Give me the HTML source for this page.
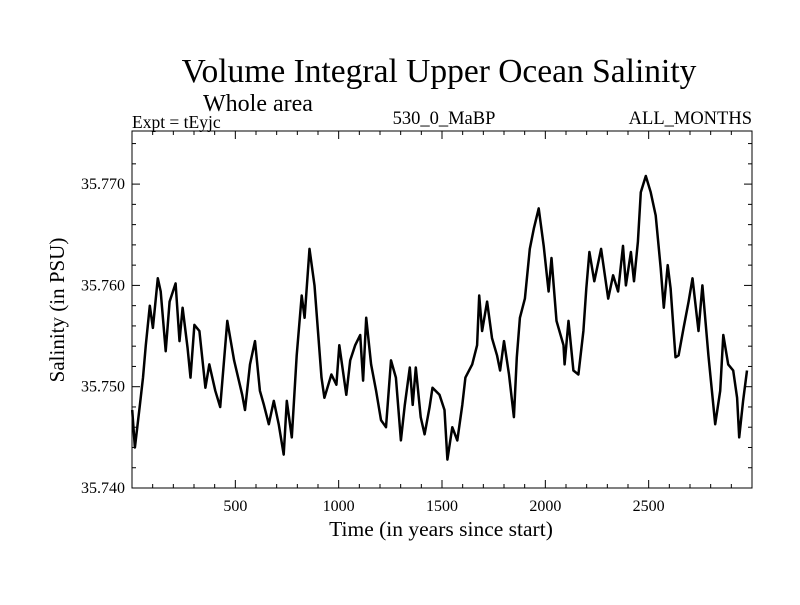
<!DOCTYPE html>
<html><head><meta charset="utf-8"><style>
body{margin:0;background:#fff;}
svg text{font-family:"Liberation Serif",serif;fill:#000;}
</style></head><body>
<svg id="chart" width="800" height="600" viewBox="0 0 800 600">
<text x="439" y="82" font-size="33.5" text-anchor="middle">Volume Integral Upper Ocean Salinity</text>
<text x="203" y="111" font-size="24">Whole area</text>
<text x="132" y="128" font-size="17.5">Expt = tEyjc</text>
<text x="444" y="124" font-size="18.5" text-anchor="middle">530_0_MaBP</text>
<text x="752" y="124" font-size="18.5" text-anchor="end">ALL_MONTHS</text>
<rect x="132" y="131" width="620" height="357" fill="none" stroke="#000" stroke-width="1"/>
<g id="ticks"></g>
<path id="series" fill="none" stroke="#000" stroke-width="2.5" stroke-linejoin="round"/>
<text x="441" y="536" font-size="21.5" text-anchor="middle">Time (in years since start)</text>
<text transform="translate(64,310) rotate(-90)" font-size="21" text-anchor="middle">Salinity (in PSU)</text>
</svg>
<script>
const years=[1,14,38,53,67,86,101,125,139,163,182,211,230,245,269,283,302,326,355,374,403,427,461,494,533,547,571,595,619,638,662,686,710,734,749,773,797,821,835,859,883,917,931,965,989,1003,1037,1056,1080,1104,1118,1133,1157,1181,1205,1229,1253,1277,1301,1320,1344,1358,1373,1397,1416,1440,1454,1488,1512,1526,1550,1574,1598,1613,1646,1670,1680,1694,1718,1742,1766,1781,1800,1824,1848,1862,1877,1901,1925,1944,1968,1992,2016,2030,2054,2088,2093,2112,2136,2160,2184,2198,2213,2237,2270,2304,2328,2352,2376,2390,2414,2429,2448,2462,2486,2510,2534,2558,2573,2592,2606,2630,2645,2669,2693,2712,2741,2760,2789,2822,2846,2861,2885,2909,2928,2938,2957,2976];
const salinity=[35.7477,35.7440,35.7482,35.7509,35.7541,35.7580,35.7558,35.7607,35.7594,35.7535,35.7584,35.7602,35.7545,35.7578,35.7538,35.7509,35.7561,35.7555,35.7499,35.7522,35.7496,35.7480,35.7565,35.7526,35.7492,35.7477,35.7522,35.7545,35.7496,35.7482,35.7463,35.7486,35.7463,35.7433,35.7486,35.7450,35.7531,35.7590,35.7568,35.7636,35.7600,35.7509,35.7489,35.7512,35.7502,35.7541,35.7492,35.7526,35.7541,35.7551,35.7506,35.7568,35.7522,35.7496,35.7467,35.7460,35.7526,35.7509,35.7447,35.7482,35.7519,35.7482,35.7519,35.7470,35.7453,35.7480,35.7499,35.7492,35.7477,35.7428,35.7460,35.7447,35.7482,35.7509,35.7522,35.7541,35.7590,35.7555,35.7584,35.7548,35.7531,35.7516,35.7545,35.7512,35.7470,35.7529,35.7568,35.7587,35.7636,35.7656,35.7676,35.7639,35.7594,35.7627,35.7565,35.7541,35.7522,35.7565,35.7516,35.7512,35.7555,35.7597,35.7633,35.7604,35.7636,35.7587,35.7610,35.7594,35.7639,35.7600,35.7633,35.7604,35.7643,35.7692,35.7708,35.7692,35.7669,35.7617,35.7578,35.7620,35.7597,35.7529,35.7531,35.7558,35.7584,35.7607,35.7555,35.7600,35.7531,35.7463,35.7496,35.7551,35.7522,35.7516,35.7489,35.7450,35.7486,35.7516];
const xTickLabels=[500,1000,1500,2000,2500];
const yTickLabels=["35.740","35.750","35.760","35.770"];
const X0=132,X1=752,XMAX=3000,Y0=488,YMIN=35.740,PXU=10.13;
function sx(v){return X0+(v/XMAX)*(X1-X0);}
function sy(v){return Y0-(v-YMIN)*1000*PXU;}
const NS="http://www.w3.org/2000/svg";
const g=document.getElementById('ticks');
function line(x1,y1,x2,y2,name){const l=document.createElementNS(NS,'line');l.setAttribute('x1',x1);l.setAttribute('y1',y1);l.setAttribute('x2',x2);l.setAttribute('y2',y2);l.setAttribute('stroke','#000');


g.appendChild(l);}
for(let t=100;t<XMAX;t+=100){const x=sx(t),len=(t%500===0)?8:4;line(x,Y0,x,Y0-len,'x-tick');line(x,131,x,131+len,'x-tick-top');}
for(let k=0;k<=17;k++){const v=YMIN+k*0.002;const y=sy(v);if(y<131)break;const len=(k%5===0)?8:4;line(X0,y,X0+len,y,'y-tick');line(X1,y,X1-len,y,'y-tick-right');}
xTickLabels.forEach(v=>{const t=document.createElementNS(NS,'text');t.setAttribute('x',sx(v));t.setAttribute('y',511);t.setAttribute('font-size','16');t.setAttribute('text-anchor','middle');t.textContent=v;


g.appendChild(t);});
yTickLabels.forEach(v=>{const t=document.createElementNS(NS,'text');t.setAttribute('x',125);t.setAttribute('y',sy(parseFloat(v))+5);t.setAttribute('font-size','16');t.setAttribute('text-anchor','end');t.textContent=v;


g.appendChild(t);});
let d='';years.forEach((yr,i)=>{d+=(i?'L':'M')+sx(yr).toFixed(1)+','+sy(salinity[i]).toFixed(1);});
document.getElementById('series').setAttribute('d',d);
</script>
</body></html>
